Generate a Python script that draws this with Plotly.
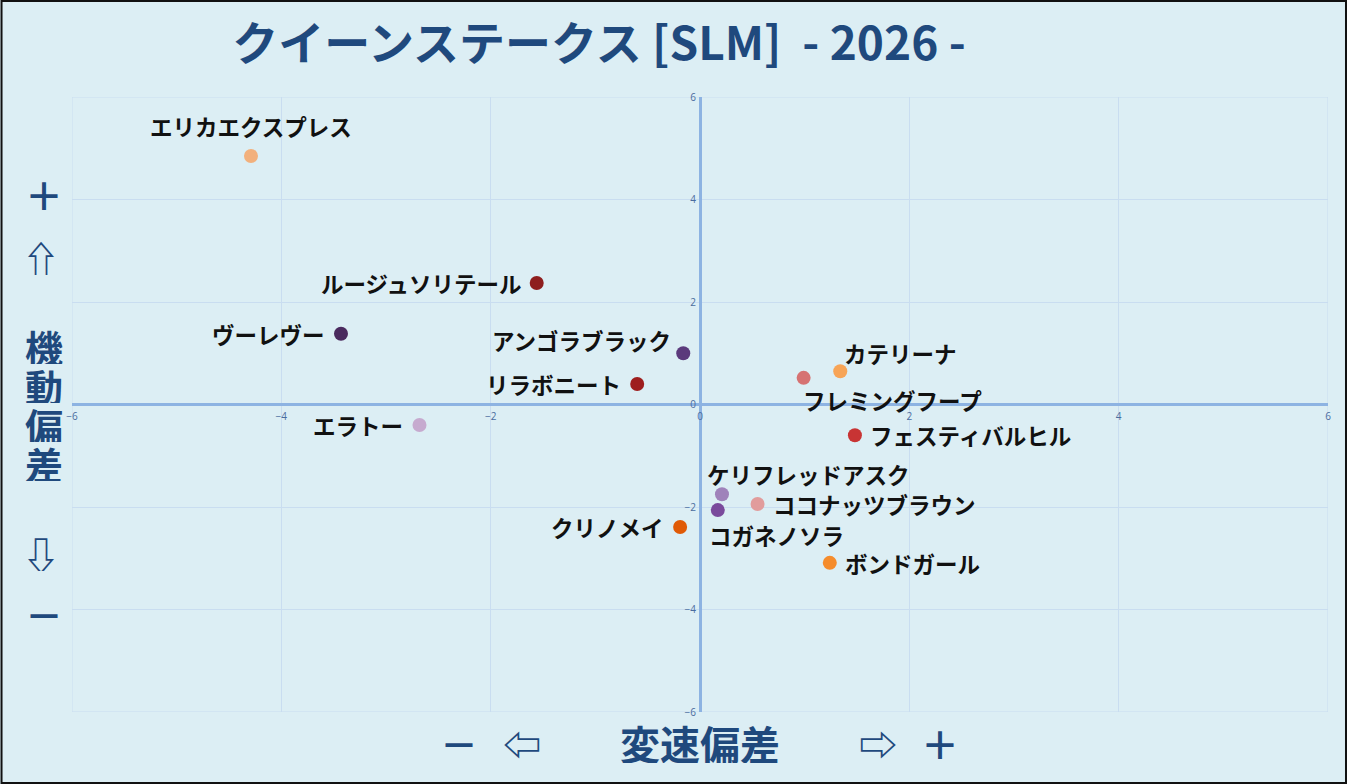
import plotly.graph_objects as go

# ---- data ----
names = ["エリカエクスプレス", "ルージュソリテール", "ヴーレヴー", "アンゴラブラック",
         "リラボニート", "エラトー", "カテリーナ", "フレミングフープ", "フェスティバルヒル",
         "ケリフレッドアスク", "ココナッツブラウン", "コガネノソラ", "クリノメイ", "ボンドガール"]
x_vals = [-4.29, -1.56, -3.43, -0.16, -0.60, -2.68, 1.34, 0.99, 1.48, 0.21, 0.55, 0.17, -0.19, 1.24]
y_vals = [4.85, 2.37, 1.38, 1.00, 0.40, -0.40, 0.65, 0.52, -0.60, -1.75, -1.94, -2.06, -2.39, -3.09]
colors = ["#F2B07C", "#8E1E1E", "#4A2A5E", "#5B3A7C", "#9E1E1E", "#C6AACF", "#F7A456",
          "#D67272", "#C83434", "#9F82BA", "#E19C9C", "#7A4A9C", "#E05A06", "#F58C2C"]
tick_vals = [-6, -4, -2, 0, 2, 4, 6]
title_text = "クイーンステークス [SLM]  - 2026 -"

# label placement (style): xanchor, xshift, yshift
label_pos = {
    "エリカエクスプレス": ("center", 0, 30),
    "ルージュソリテール": ("right", -14, 0),
    "ヴーレヴー": ("right", -14, 0),
    "アンゴラブラック": ("right", -10, 13),
    "リラボニート": ("right", -14, 0),
    "エラトー": ("right", -14, 0),
    "カテリーナ": ("left", 2, 18),
    "フレミングフープ": ("left", -3, -22),
    "フェスティバルヒル": ("left", 13, 0),
    "ケリフレッドアスク": ("left", -17, 20),
    "ココナッツブラウン": ("left", 13, 0),
    "コガネノソラ": ("left", -11, -25),
    "クリノメイ": ("right", -14, 0),
    "ボンドガール": ("left", 13, 0),
}

W, H = 1347, 784
L, R, T, B = 71.5, 1328, 97, 712
BLUE = "#1F497D"

def px(xp):
    return (xp - L) / (R - L)

def py(yp):
    return (B - yp) / (B - T)

fig = go.Figure()
fig.add_trace(go.Scatter(
    x=x_vals, y=y_vals, mode="markers",
    marker=dict(size=14, color=colors, line=dict(width=0)),
    hoverinfo="text", text=names, showlegend=False,
))

annotations = []
for n, xv, yv in zip(names, x_vals, y_vals):
    xa, xs, ys = label_pos[n]
    annotations.append(dict(
        x=xv, y=yv, xref="x", yref="y", text="<b>" + n + "</b>", showarrow=False,
        xanchor=xa, yanchor="middle", xshift=xs, yshift=ys,
        font=dict(family="Noto Sans CJK JP", size=22.5, color="#111111"),
    ))

side_font = dict(family="Noto Sans CJK JP", size=38, color=BLUE)
# Y-axis title pieces
for txt, xp_, yp_ in [("<b>＋</b>", 43, 193), ("<b>⇧</b>", 40, 257),
                      ("<b>機</b>", 43, 346), ("<b>動</b>", 43, 385),
                      ("<b>偏</b>", 43, 424), ("<b>差</b>", 43, 463),
                      ("<b>⇩</b>", 40, 553), ("<b>－</b>", 43, 613)]:
    annotations.append(dict(x=px(xp_), y=py(yp_), xref="paper", yref="paper", text=txt,
                            showarrow=False, xanchor="center", yanchor="middle",
                            height=35, borderpad=0, font=side_font))
# X-axis title pieces
for txt, xp_, yp_, fs in [("<b>－</b>", 459, 742, 38), ("<b>⇦</b>", 522, 742, 38),
                          ("<b>変速偏差</b>", 700, 743, 40), ("<b>⇨</b>", 878, 742, 38),
                          ("<b>＋</b>", 940, 742, 38)]:
    annotations.append(dict(x=px(xp_), y=py(yp_), xref="paper", yref="paper", text=txt,
                            showarrow=False, xanchor="center", yanchor="middle",
                            height=40, borderpad=0,
                            font=dict(family="Noto Sans CJK JP", size=fs, color=BLUE)))

tick_font = dict(family="Open Sans", size=10, color="#4A6C9E")
fig.update_layout(
    width=W, height=H,
    margin=dict(l=L, r=W - R, t=T, b=H - B),
    paper_bgcolor="#DCEEF4", plot_bgcolor="#DCEEF4",
    title=dict(text="<b>" + title_text + "</b>", x=599 / W, xref="container", xanchor="center",
               y=1 - 44 / H, yref="container", yanchor="middle",
               font=dict(family="Noto Sans CJK JP", size=46, color=BLUE)),
    xaxis=dict(range=[-6, 6], tickvals=tick_vals, showgrid=True, gridcolor="#C9DDF0", gridwidth=1,
               zeroline=True, zerolinecolor="#8DB3E2", zerolinewidth=3, showline=False,
               anchor="free", position=0.5, ticks="", tickfont=tick_font, ticklabelstandoff=4,
               fixedrange=True),
    yaxis=dict(range=[-6, 6], tickvals=tick_vals, showgrid=True, gridcolor="#C9DDF0", gridwidth=1,
               zeroline=True, zerolinecolor="#8DB3E2", zerolinewidth=3, showline=False,
               anchor="free", position=0.5, ticks="", tickfont=tick_font, ticklabelstandoff=4,
               fixedrange=True),
    annotations=annotations,
    shapes=[
        dict(type="rect", xref="x", yref="y", x0=-6, x1=6, y0=-6, y1=6,
             line=dict(color="#C9DDF0", width=1), layer="below"),
        dict(type="rect", xref="paper", yref="paper", x0=px(1), x1=px(W - 1), y0=py(H - 1), y1=py(1),
             line=dict(color="#111111", width=2)),
    ],
)

fig.write_html("out.html", config={"displayModeBar": False},
               post_script="document.body.style.margin='0';")
